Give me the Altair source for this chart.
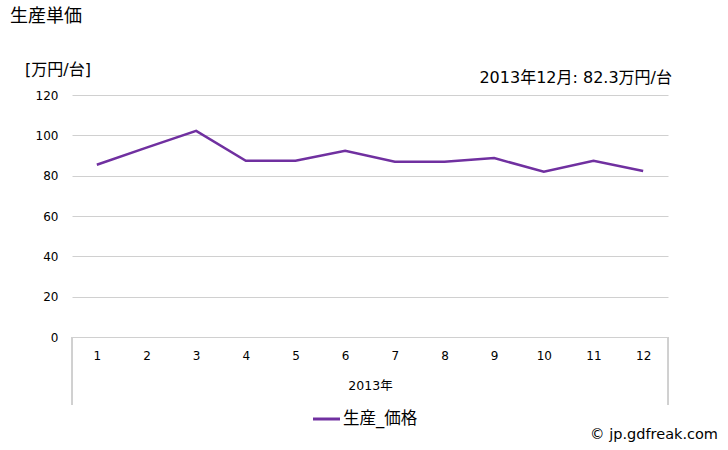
import altair as alt
import pandas as pd

months = ["1", "2", "3", "4", "5", "6", "7", "8", "9", "10", "11", "12"]
price = [85.4, 93.9, 102.2, 87.4, 87.4, 92.3, 86.9, 86.9, 88.7, 82.0, 87.4, 82.3]
y_ticks = [0, 20, 40, 60, 80, 100, 120]
series_name = "生産_価格"
title_text = "生産単価"
unit_text = "[万円/台]"
note_text = "2013年12月: 82.3万円/台"
x_title = "2013年"
credit_text = "© jp.gdfreak.com"

FONT = "DejaVu Sans, Noto Sans CJK JP"
PURPLE = "#7030A0"
GRID = "#d0d0d0"

df = pd.DataFrame({"month": months, "price": price, "series": series_name})

W, H = 596, 242

base = alt.Chart(df)

line = base.mark_line(color=PURPLE, strokeWidth=2.5).encode(
    x=alt.X(
        "month:N",
        sort=months,
        scale=alt.Scale(paddingInner=0, paddingOuter=0),
        axis=alt.Axis(
            title=x_title,
            labelAngle=0,
            domain=False,
            ticks=False,
            labelPadding=13,
            titlePadding=18,
            labelFont=FONT,
            labelFontSize=12,
            labelColor="#000000",
            titleFont=FONT,
            titleFontSize=12.5,
            titleFontWeight="normal",
            titleColor="#000000",
        ),
    ),
    y=alt.Y(
        "price:Q",
        scale=alt.Scale(domain=[0, 120], nice=False, zero=True),
        axis=alt.Axis(
            title=None,
            values=y_ticks,
            domain=False,
            ticks=False,
            labelPadding=14,
            labelFont=FONT,
            labelFontSize=12,
            labelColor="#000000",
            gridColor=GRID,
            gridWidth=1,
        ),
    ),
)

box_left = base.mark_rule(color=GRID, strokeWidth=1).encode(
    x=alt.value(0), y=alt.value(H), y2=alt.value(H + 68)
)
box_right = base.mark_rule(color=GRID, strokeWidth=1).encode(
    x=alt.value(W), y=alt.value(H), y2=alt.value(H + 68)
)


def label(text, x, y, size, align="left"):
    return alt.Chart(pd.DataFrame({"t": [text]})).mark_text(
        font=FONT, fontSize=size, align=align, baseline="middle", color="#000000"
    ).encode(text="t:N", x=alt.value(x), y=alt.value(y))


title = label(title_text, -62, -78, 18)
unit = label(unit_text, -47, -25, 16)
note = label(note_text, 600, -17, 16, align="right")
credit = label(credit_text, 646, 340, 14.5, align="right")

legend_line = alt.Chart(pd.DataFrame({"s": [series_name]})).mark_rule(
    color=PURPLE, strokeWidth=3
).encode(x=alt.value(241), x2=alt.value(268), y=alt.value(324))
legend_text = label(series_name, 271, 324, 16.5)

chart = alt.layer(
    box_left, box_right, line, title, unit, note, credit, legend_line, legend_text
).properties(
    width=W,
    height=H,
    autosize=alt.AutoSizeParams(type="none"),
    padding={"left": 72, "top": 95, "right": 60, "bottom": 113},
).configure(background="white").configure_view(stroke=None)

chart.save("out.html", embed_options={"renderer": "svg", "actions": False})
